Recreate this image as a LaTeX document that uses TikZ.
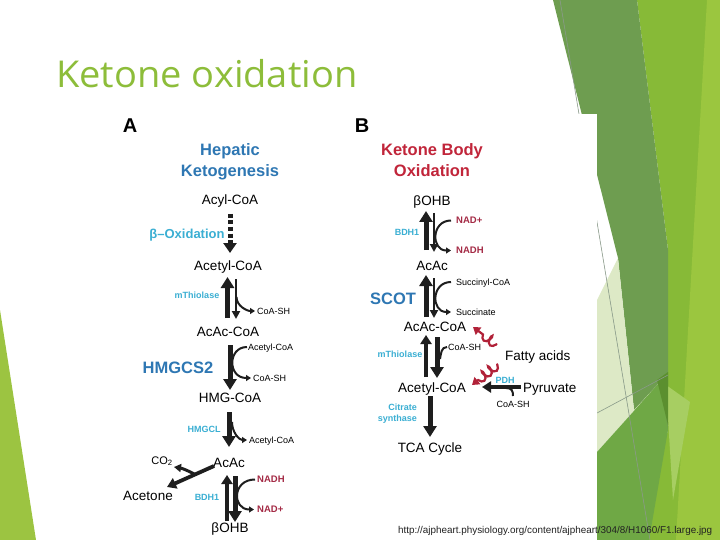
\documentclass[tikz,border=0pt]{standalone}
\usepackage{fontspec}
\usepackage{graphicx}
\setmainfont{Liberation Sans}
\newfontfamily\titlefont{Open Sans}
\usetikzlibrary{arrows.meta,calc,decorations.pathmorphing}
\definecolor{titleg}{HTML}{8DBD3A}
\definecolor{ygreen}{HTML}{87BA37}
\definecolor{lgreen}{HTML}{9BC63F}
\definecolor{dgreen}{HTML}{6E9D50}
\definecolor{palegreen}{HTML}{DDE9C6}
\definecolor{mgreen}{HTML}{6FA845}
\definecolor{ltgreen}{HTML}{A7CE62}
\definecolor{tipgreen}{HTML}{5B8F2F}
\definecolor{linegray}{HTML}{8A9A8A}
\definecolor{leftg}{HTML}{9CC441}
\definecolor{blueh}{HTML}{2E77B3}
\definecolor{cyanl}{HTML}{3BAFD3}
\definecolor{redh}{HTML}{C1253A}
\definecolor{nadred}{HTML}{A42A45}
\definecolor{sqred}{HTML}{B12138}
\definecolor{arrowc}{HTML}{1E1E1E}
\definecolor{urlc}{HTML}{222222}
\begin{document}
\begin{tikzpicture}[x=1pt,y=-1pt,
  met/.style={font=\fontsize{13.5}{16}\selectfont, inner sep=0pt, anchor=base, text=black},
  sm/.style={font=\fontsize{9}{11}\selectfont, inner sep=0pt, anchor=base, text=black},
  enz/.style={font=\bfseries\fontsize{9}{11}\selectfont, inner sep=0pt, anchor=base, text=cyanl},
  cof/.style={font=\bfseries\fontsize{9.5}{11}\selectfont, inner sep=0pt, anchor=base, text=nadred},
  head/.style={font=\bfseries\fontsize{16.5}{20}\selectfont, inner sep=0pt, anchor=base},
  lab/.style={font=\bfseries\fontsize{20}{24}\selectfont, inner sep=0pt, anchor=base},
  bigarr/.style={draw=arrowc, line width=5pt, -{Triangle[length=11pt,width=13pt]}},
  midarr/.style={draw=arrowc, line width=3.8pt, -{Triangle[length=9pt,width=11pt]}},
  smallarr/.style={draw=arrowc, line width=2.4pt, -{Triangle[length=8pt,width=8pt]}},
  dasharr/.style={draw=arrowc, line width=5pt, dash pattern=on 4pt off 2.5pt, -{Triangle[length=10pt,width=13pt]}},
  sidearr/.style={draw=arrowc, line width=2pt, -{Triangle[length=5pt,width=6pt]}},
  sideline/.style={draw=arrowc, line width=2pt},
  squigarr/.style={draw=sqred, line width=2.2pt, decoration={coil, amplitude=4.5pt, segment length=8pt, pre length=1pt, post length=5pt}, decorate, -{Triangle[length=7pt,width=9pt]}}
]
\useasboundingbox (0,0) rectangle (720,540);
% ---------- slide decoration ----------
\fill[leftg] (0,310) -- (36,540) -- (0,540) -- cycle;
\fill[ygreen] (637,0) -- (720,0) -- (720,540) -- (640,540) -- (668,430) -- (668,250) -- cycle;
\fill[lgreen] (707,0) -- (720,0) -- (720,540) -- (676,540) -- cycle;
\fill[dgreen] (553,0) -- (637,0) -- (668,250) -- (668,430) -- (634,410) -- (618,258) -- cycle;
\fill[palegreen] (597,300) -- (618,258) -- (634,410) -- (660,382) -- (597,452) -- cycle;
\fill[mgreen] (597,452) -- (660,382) -- (668,430) -- (649,540) -- (597,540) -- cycle;
\fill[ltgreen] (666,385) -- (690,402) -- (673,500) -- cycle;
\fill[tipgreen] (657,380) -- (668,372) -- (668,425) -- cycle;
\draw[linegray, line width=0.6pt] (560,0) -- (650,540);
\draw[linegray, line width=0.6pt] (597,413) -- (668,375);
% title
\node[anchor=base west, inner sep=0pt, font=\titlefont\fontsize{37}{40}\selectfont, text=titleg] (title) at (56,88) {\scalebox{1.028}[1]{Ketone oxidation}};
% figure background
\fill[white] (110,114) rectangle (597,540);
% ---------- panel A ----------
\node[lab] (labA) at (130,133) {A};
\node[head,text=blueh] (hepA1) at (230,156) {Hepatic};
\node[head,text=blueh] (hepA2) at (230,177) {Ketogenesis};
\node[met] (acyl) at (230,205) {Acyl-CoA};
\node[enz,font=\bfseries\fontsize{13}{15}\selectfont] (betaox) at (187,239) {β–Oxidation};
\node[met] (acetylA) at (228,270) {Acetyl-CoA};
\node[enz] (mthioA) at (197,298) {mThiolase};
\node[sm,anchor=base west] (coashA1) at (257,314) {CoA-SH};
\node[met] (acacoaA) at (228,336) {AcAc-CoA};
\node[sm,anchor=base west] (acetylsmA) at (248,350) {Acetyl-CoA};
\node[head,text=blueh] (hmgcs2) at (178,373) {HMGCS2};
\node[sm,anchor=base west] (coashA2) at (253,381) {CoA-SH};
\node[met] (hmgcoa) at (230,402) {HMG-CoA};
\node[enz] (hmgcl) at (204,432) {HMGCL};
\node[sm,anchor=base west] (acetylsmA2) at (249,443) {Acetyl-CoA};
\node[met] (acacA) at (229,467) {AcAc};
\node[met,font=\fontsize{11}{13}\selectfont] (co2) at (162,464) {CO\textsubscript{2}};
\node[met] (acetone) at (148,500) {Acetone};
\node[cof,anchor=base west] (nadhA) at (257,482.5) {NADH};
\node[cof,anchor=base west] (nadpA) at (257,512.5) {NAD+};
\node[enz] (bdh1A) at (207,500) {BDH1};
\node[met] (bohbA) at (230,532) {βOHB};
% arrows A
\draw[dasharr] ($(acyl.base)+(0,9)$) -- ($(acetylA.base)+(2,-17)$);
\draw[bigarr] ($(acacoaA.base)+(-0.5,-18)$) -- ($(acetylA.base)+(-0.5,7)$);
\draw[smallarr] ($(acetylA.base)+(8,9)$) -- ($(acacoaA.base)+(8,-17)$);
\draw[sidearr] ($(acetylA.base)+(8.5,27)$) .. controls +(0,9) and +(-8,0) .. ($(coashA1.base west)+(-2,-3)$);
\draw[bigarr] ($(acacoaA.base)+(2,9)$) -- ($(hmgcoa.base)+(0,-12)$);
\draw[sidearr] ($(acetylsmA.base west)+(-1,-3)$) .. controls +(-19.5,0) and +(-23.5,0) .. ($(coashA2.base west)+(-2,-3)$);
\draw[bigarr] ($(hmgcoa.base)+(-1,10)$) -- ($(acacA.base)+(0,-20)$);
\draw[sidearr] ($(hmgcoa.base)+(2,20)$) .. controls +(0,10) and +(-8,0) .. ($(acetylsmA2.base west)+(-2,-3)$);
\draw[midarr] ($(acacA.base)+(-15,-1)$) -- ($(acetone.base)+(19,-13)$);
\draw[sidearr, line width=3pt, -{Triangle[length=7pt,width=8pt]}] ($(acacA.base)+(-34,7.5)$) .. controls +(-7,-4) and +(7,1) .. ($(co2.base)+(12,3)$);
\draw[midarr] ($(bohbA.base)+(-3,-11)$) -- ($(acacA.base)+(-2,8)$);
\draw[bigarr] ($(acacA.base)+(6,9)$) -- ($(bohbA.base)+(5,-10)$);
\draw[sidearr] ($(nadhA.base west)+(-2,-3)$) .. controls +(-23,0) and +(-22,0) .. ($(nadpA.base west)+(-3,-3)$);
% ---------- panel B ----------
\node[lab] (labB) at (362,133) {B};
\node[head,text=redh] (kbo1) at (432,156) {Ketone Body};
\node[head,text=redh] (kbo2) at (432,177) {Oxidation};
\node[met] (bohbB) at (432,206) {βOHB};
\node[enz] (bdh1B) at (407,236) {BDH1};
\node[cof,anchor=base west] (nadpB) at (456,223.5) {NAD+};
\node[cof,anchor=base west] (nadhB) at (456,253.5) {NADH};
\node[met] (acacB) at (432,270) {AcAc};
\node[sm,anchor=base west] (succoa) at (456,285) {Succinyl-CoA};
\node[sm,anchor=base west] (succ) at (456,315) {Succinate};
\node[head,text=blueh] (scot) at (393,304) {SCOT};
\node[met] (acacoaB) at (435,331) {AcAc-CoA};
\node[sm,anchor=base west] (coashB) at (448,350) {CoA-SH};
\node[enz] (mthioB) at (400,357) {mThiolase};
\node[met,anchor=base west] (fatty) at (505,360) {Fatty acids};
\node[met] (acetylB) at (432,392) {Acetyl-CoA};
\node[enz] (pdh) at (505,383) {PDH};
\node[met,anchor=base west] (pyr) at (523,392) {Pyruvate};
\node[sm] (coashB2) at (513,407) {CoA-SH};
\node[enz,anchor=base east] (cit1) at (417,410) {Citrate};
\node[enz,anchor=base east] (cit2) at (417,421) {synthase};
\node[met] (tca) at (430,452) {TCA Cycle};
% arrows B
\draw[bigarr] ($(acacB.base)+(-6,-20)$) -- ($(bohbB.base)+(-6,5)$);
\draw[smallarr] ($(bohbB.base)+(2,7)$) -- ($(acacB.base)+(2,-18)$);
\draw[sidearr] ($(nadpB.base west)+(-5,-3)$) .. controls +(-20,0) and +(-20,0) .. ($(nadhB.base west)+(-5,-3)$);
\draw[bigarr] ($(acacoaB.base)+(-9,-14)$) -- ($(acacB.base)+(-6,5)$);
\draw[smallarr] ($(acacB.base)+(2,8)$) -- ($(acacoaB.base)+(-1,-13)$);
\draw[sidearr] ($(succoa.base west)+(-5,-3)$) .. controls +(-20,0) and +(-20,0) .. ($(succ.base west)+(-5,-3)$);
\draw[midarr] ($(acetylB.base)+(-6,-15)$) -- ($(acacoaB.base)+(-9,4)$);
\draw[bigarr] ($(acacoaB.base)+(2,6)$) -- ($(acetylB.base)+(5,-14)$);
\draw[sideline] ($(coashB.base west)+(-1,-3)$) .. controls +(-6,0) and +(1,-5) .. ($(acacoaB.base)+(5,28)$);
\draw[midarr] ($(pyr.base west)+(-2,-5)$) -- ($(acetylB.base)+(50,-5)$);
\draw[sideline] ($(pyr.base west)+(-17,-4)$) .. controls +(6,0) and +(0,-5) .. ($(coashB2.base)+(0,-11)$);
\draw[bigarr] ($(acetylB.base)+(-2,4)$) -- ($(tca.base)+(0,-15)$);
\draw[squigarr] ($(fatty.base west)+(-8,-15)$) -- ($(acacoaB.base)+(38,-4)$);
\draw[squigarr] ($(fatty.base west)+(-7,4)$) -- ($(acetylB.base)+(40,-7)$);
% source
\node[anchor=base west, inner sep=0pt, text=urlc] (url) at (398,533) {\resizebox{314pt}{!}{http://ajpheart.physiology.org/content/ajpheart/304/8/H1060/F1.large.jpg}};
\end{tikzpicture}
\end{document}
